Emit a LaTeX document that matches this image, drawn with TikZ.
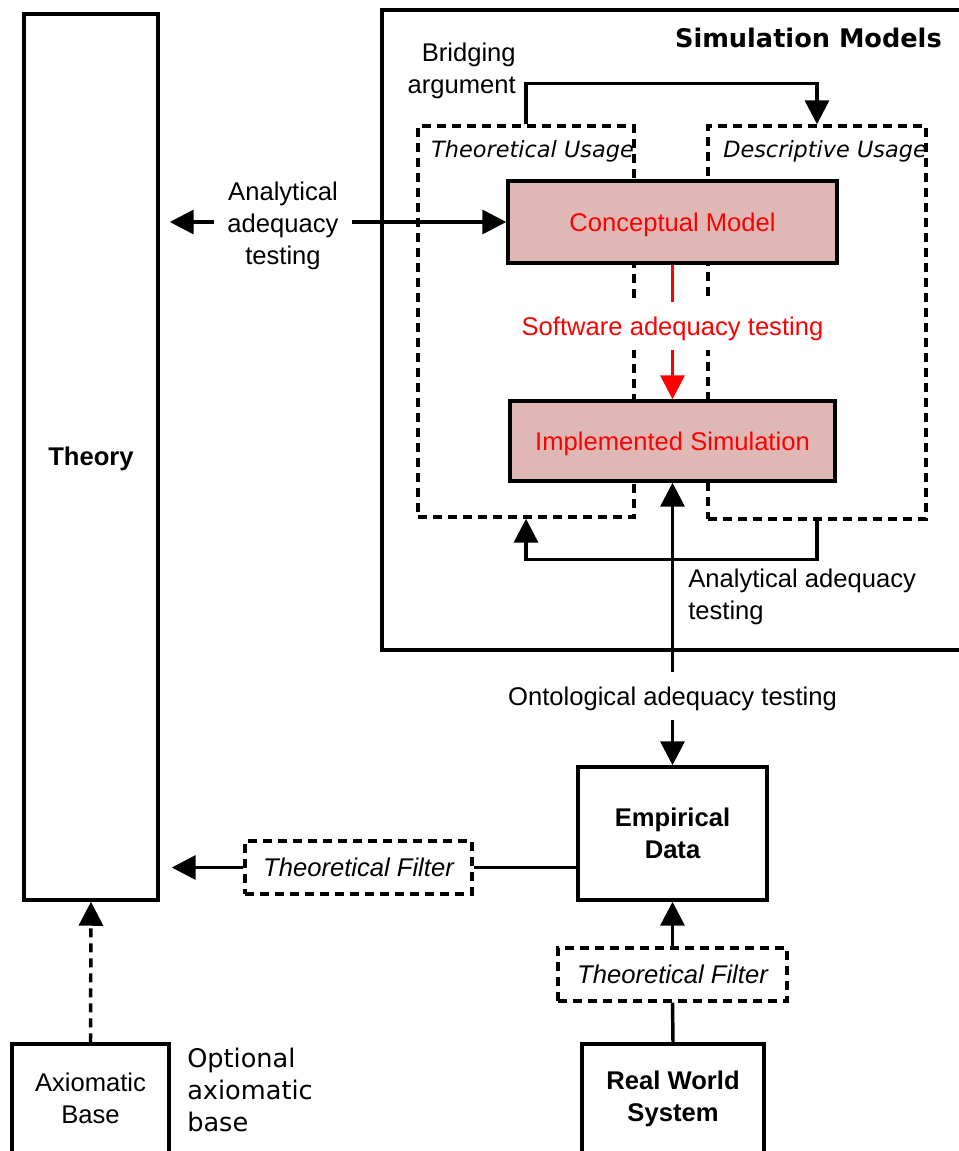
\documentclass[tikz,border=0pt]{standalone}
\usepackage{fontspec}
\setmainfont{Liberation Sans}
\newfontfamily\dejavu{DejaVu Sans}
\usetikzlibrary{arrows.meta,calc}

\definecolor{boxpink}{RGB}{223,183,181}
\newcommand{\bodysize}{\fontsize{19.2}{24}\selectfont}

\begin{document}
\begin{tikzpicture}[x=0.75pt,y=-0.75pt,
  every node/.style={font=\bodysize},
  box/.style={draw, line width=2.6pt, rectangle, inner sep=0pt, align=center},
  dbox/.style={draw, line width=2.6pt, dash pattern=on 6.75pt off 4.5pt, rectangle, inner sep=0pt, align=center},
  model/.style={box, fill=boxpink, text=red},
  conn/.style={line width=2.6pt},
  arr/.style={conn, -{Triangle[length=18pt,width=18pt]}},
  lbl/.style={inner sep=0pt, align=center},
  boldtext/.style={font=\bfseries\bodysize},
  ittext/.style={font=\itshape\bodysize},
  oneline/.style={text height=14.4pt, text depth=0pt}
]
\useasboundingbox (0,0) rectangle (958,1151);

% usage regions behind the model boxes
\node[dbox, minimum width=162pt, minimum height=293.25pt] (tu) at (526,321.5) {};
\node[dbox, minimum width=163.5pt, minimum height=294.75pt] (du) at (817,322.5) {};

% simulation models frame (runs off the right edge)
\node[box, minimum width=456pt, minimum height=480pt] (sim) at (686,330) {};
\node[lbl, anchor=east, font=\dejavu\bfseries\bodysize] (simt) at (942,38) {Simulation Models};

\node[lbl, anchor=west, font=\dejavu\itshape\fontsize{16.8}{20}\selectfont] (tut) at (431,151) {Theoretical Usage};
\node[lbl, anchor=west, font=\dejavu\itshape\fontsize{16.8}{20}\selectfont] (dut) at (723,151) {Descriptive Usage};

% models
\node[model, oneline, minimum width=246.75pt, minimum height=61.5pt] (cm) at (672.5,222) {Conceptual Model};
\node[model, oneline, minimum width=243.75pt, minimum height=60pt] (is) at (672.5,441) {Implemented Simulation};

\node[lbl, oneline, text=red, fill=white, minimum height=36pt] (sw) at (672.5,326) {Software adequacy testing};
\draw[conn, red] (cm.south) -- (sw.north);
\draw[arr, red] (sw.south) -- (is.north);

% theory column
\node[box, boldtext, text height=14pt, text depth=1.8pt, minimum width=100.5pt, minimum height=664.5pt] (th) at (91,457) {Theory};

% analytical adequacy testing towards theory
\node[lbl, inner xsep=9.75pt] (ana) at (283,226) {Analytical\\adequacy\\testing};
\coordinate (thA) at ($(th.east |- cm.west)+(10,0)$);
\draw[arr] (ana.east |- cm.west) -- (cm.west);
\draw[arr] (ana.west |- cm.west) -- (thA);

% bridging argument
\node[lbl, align=right, anchor=east] (br) at (516,71) {Bridging\\argument};
\draw[arr] (tu.north) -- ++(0,-41) -| (du.north);

% analytical adequacy testing between usages
\draw[arr] (du.south) -- ++(0,39) -| (tu.south);
\node[lbl, align=left, anchor=west] (ana2) at (688,597) {Analytical adequacy\\testing};

% empirical side
\node[box, boldtext, minimum width=141.75pt, minimum height=99.75pt] (em) at (672.5,833.5) {Empirical\\Data};
\node[lbl, oneline, minimum height=36pt] (on) at (672.5,696) {Ontological adequacy testing};
\draw[arr] (on.north) -- (is.south);
\draw[arr] (on.south) -- (em.north);

\node[dbox, ittext, minimum width=170.25pt, minimum height=39.75pt] (f1) at (358.5,867.5) {Theoretical Filter};
\coordinate (thF) at ($(th.east |- f1.west)+(12,0)$);
\draw[conn] (em.west |- f1.east) -- (f1.east);
\draw[arr] (f1.west) -- (thF);

\node[dbox, ittext, minimum width=171.75pt, minimum height=39.75pt] (f2) at (672.5,974.5) {Theoretical Filter};
\node[box, boldtext, minimum width=136.5pt, minimum height=81.75pt] (rw) at (673,1098.5) {Real World\\System};
\draw[arr] (f2.north) -- (em.south);
\draw[conn] (rw.north) -- (f2.south);

% axiomatic base
\node[box, minimum width=117.75pt, minimum height=81.75pt] (ax) at (90.5,1098.5) {Axiomatic\\Base};
\draw[arr, dash pattern=on 6.75pt off 4.5pt] (ax.north) -- (th.south);
\node[lbl, align=left, anchor=west, font=\dejavu\bodysize] (opt) at (187,1090) {Optional\\axiomatic\\base};
\end{tikzpicture}
\end{document}
